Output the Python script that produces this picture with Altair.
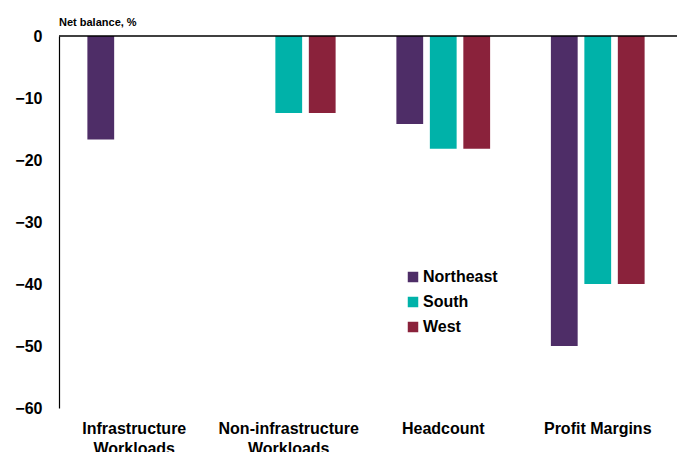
import altair as alt
import pandas as pd

categories = ["Infrastructure Workloads", "Non-infrastructure Workloads", "Headcount", "Profit Margins"]
regions = ["Northeast", "South", "West"]
northeast = [-16.7, None, -14.2, -50.0]
south = [None, -12.4, -18.2, -40.0]
west = [None, -12.4, -18.2, -40.0]
colors = ["#4E2D67", "#00B2A9", "#8A223B"]
y_ticks = [0, -10, -20, -30, -40, -50, -60]

rows = []
for reg, vals in zip(regions, [northeast, south, west]):
    for c, v in zip(categories, vals):
        rows.append({"category": c, "region": reg, "value": v})
df = pd.DataFrame(rows)

FONT = "Liberation Sans"

bars = alt.Chart(df).transform_filter("datum.value != null").mark_bar().encode(
    x=alt.X("category:N", sort=categories,
            scale=alt.Scale(paddingInner=0.35, paddingOuter=0.175, range=[-2, 616]),
            axis=alt.Axis(title=None, labelAngle=0, domain=False, ticks=False,
                          labelPadding=12, labelFontSize=16, labelFontWeight="bold",
                          labelFont=FONT, labelColor="black", labelLineHeight=20,
                          labelExpr="datum.label == 'Headcount' || datum.label == 'Profit Margins' ? datum.label : split(datum.label, ' ')")),
    xOffset=alt.XOffset("region:N", sort=regions,
                        scale=alt.Scale(domain=regions, paddingInner=0.2, paddingOuter=0.1)),
    y=alt.Y("value:Q", scale=alt.Scale(domain=[-60, 0], nice=False),
            axis=alt.Axis(title=None, values=y_ticks, grid=False, ticks=False,
                          domainColor="black", domainWidth=1.2,
                          labelPadding=17, labelFontSize=16, labelFontWeight="bold",
                          labelFont=FONT, labelColor="black")),
    color=alt.Color("region:N", sort=regions,
                    scale=alt.Scale(domain=regions, range=colors),
                    legend=alt.Legend(title=None, orient="none", legendX=346, legendY=233,
                                      symbolType="square", symbolSize=110, symbolStrokeWidth=0,
                                      labelFontSize=16, labelFontWeight="bold", labelFont=FONT,
                                      labelColor="black", rowPadding=9, symbolOffset=0,
                                      labelOffset=2)),
)

zero = alt.Chart(pd.DataFrame({"y": [0]})).mark_rule(color="black", strokeWidth=1.5).encode(
    y=alt.Y("y:Q")
)

chart = alt.layer(bars, zero).properties(
    width=618, height=372,
    title=alt.Title("Net balance, %", anchor="start", frame="group", fontSize=11,
                    fontWeight="bold", font=FONT, color="black", offset=0),
    autosize=alt.AutoSizeParams(type="none"),
    padding={"left": 59, "top": 36, "right": 0, "bottom": 44},
).configure_view(stroke=None)

chart.save("out.html", embed_options={"renderer": "svg", "actions": False})
